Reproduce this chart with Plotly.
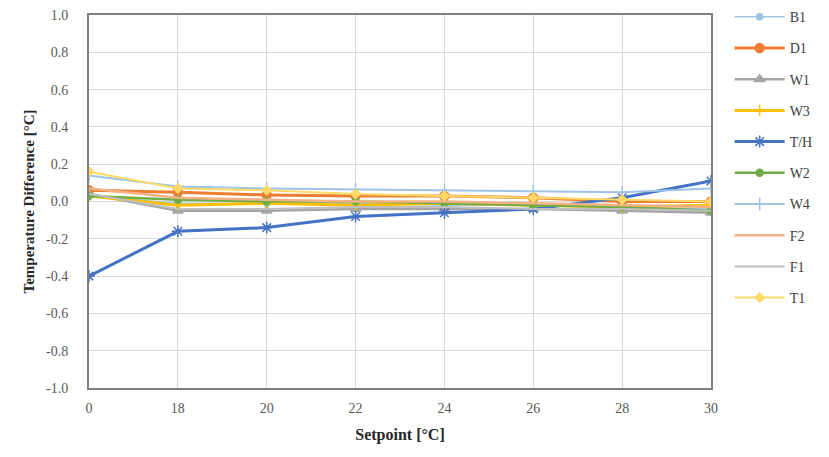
import plotly.graph_objects as go

setpoints = ["0", "18", "20", "22", "24", "26", "28", "30"]

B1 = [0.03, -0.01, -0.01, -0.01, -0.02, -0.02, -0.03, -0.04]
D1 = [0.06, 0.05, 0.035, 0.03, 0.03, 0.02, 0.00, 0.00]
W1 = [0.04, -0.05, -0.05, -0.04, -0.04, -0.04, -0.05, -0.06]
W3 = [0.03, -0.02, -0.01, -0.02, -0.01, -0.02, -0.03, -0.02]
TH = [-0.40, -0.16, -0.14, -0.08, -0.06, -0.04, 0.02, 0.11]
W2 = [0.03, 0.01, 0.00, 0.00, -0.01, -0.02, -0.03, -0.05]
W4 = [0.14, 0.08, 0.07, 0.065, 0.06, 0.055, 0.05, 0.07]
F2 = [0.07, 0.02, 0.01, 0.00, 0.00, -0.01, -0.02, -0.03]
F1 = [0.04, -0.04, -0.04, -0.03, -0.03, -0.04, -0.04, -0.05]
T1 = [0.16, 0.07, 0.06, 0.04, 0.03, 0.02, 0.01, 0.00]

y_ticks = [-1.0, -0.8, -0.6, -0.4, -0.2, 0.0, 0.2, 0.4, 0.6, 0.8, 1.0]

series = [
    ("B1", B1, "#9DC3E6", 1.5, "circle", 6),
    ("D1", D1, "#ED7D31", 3, "circle", 9),
    ("W1", W1, "#A5A5A5", 2.5, "triangle-up", 9),
    ("W3", W3, "#FFC000", 3, "cross-thin-open", 8),
    ("T/H", TH, "#4472C4", 3, "asterisk-open", 10),
    ("W2", W2, "#70AD47", 2.5, "circle", 7),
    ("W4", W4, "#9DC3E6", 2, "line-ns-open", 9),
    ("F2", F2, "#F4B183", 2.5, None, 0),
    ("F1", F1, "#BFBFBF", 2, None, 0),
    ("T1", T1, "#FFD966", 2, "diamond", 7),
]

xs = list(range(len(setpoints)))
fig = go.Figure()
for name, vals, color, lw, sym, ms in series:
    if sym is None:
        mode = "lines"
        marker = None
    else:
        mode = "lines+markers"
        marker = dict(symbol=sym, size=ms, color=color, line=dict(color=color, width=1.5))
    fig.add_trace(go.Scatter(
        x=xs, y=vals, name=name, mode=mode,
        line=dict(color=color, width=lw),
        marker=marker, legendgroup=name,
    ))

serif = "Liberation Serif, Times New Roman, serif"
fig.update_layout(
    width=821, height=449,
    margin=dict(l=81, r=118, t=7, b=69, autoexpand=False),
    paper_bgcolor="white", plot_bgcolor="white",
    font=dict(family=serif, color="#595959", size=14),
    showlegend=True,
    legend=dict(
        x=1.03, y=1.037, xanchor="left", yanchor="top",
        font=dict(family=serif, size=14, color="#404040"),
        tracegroupgap=10, traceorder="grouped",
        itemwidth=50, maxheight=440,
    ),
    xaxis=dict(
        tickmode="array", tickvals=xs, ticktext=setpoints,
        range=[0, len(setpoints) - 1],
        showgrid=True, gridcolor="#D9D9D9", gridwidth=1,
        showline=True, linecolor="#808080", linewidth=2, mirror=True,
        zeroline=False, ticks="", ticklabelstandoff=6,
        tickfont=dict(family=serif, size=14, color="#595959"),
        title=dict(text="<b>Setpoint [°C]</b>", font=dict(family=serif, size=16, color="#262626"), standoff=14),
    ),
    yaxis=dict(
        tickmode="array", tickvals=y_ticks,
        ticktext=[f"{v:.1f}" for v in y_ticks],
        range=[-1.0, 1.0],
        showgrid=True, gridcolor="#D9D9D9", gridwidth=1,
        showline=True, linecolor="#808080", linewidth=2, mirror=True,
        zeroline=False, ticks="", ticklabelstandoff=16,
        ticklabeloverflow="allow",
        tickfont=dict(family=serif, size=14, color="#595959"),
        title=dict(text="<b>Temperature Difference [°C]</b>", font=dict(family=serif, size=15, color="#262626"), standoff=8),
    ),
)

fig.write_html("out.html")
